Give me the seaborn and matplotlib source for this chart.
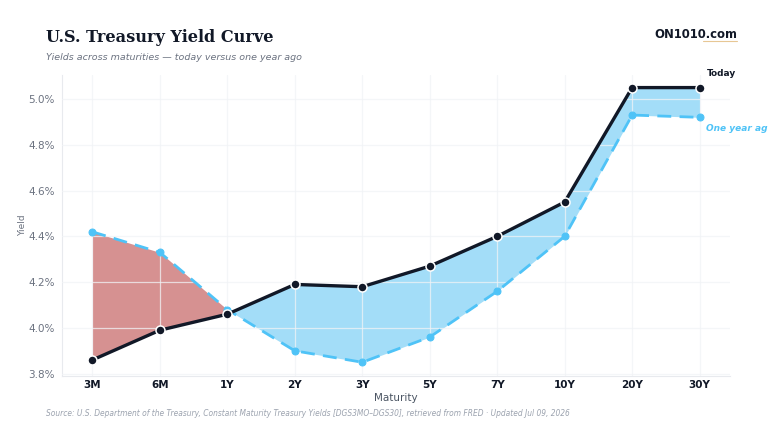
import numpy as np
import pandas as pd
import matplotlib
matplotlib.use("Agg")
import matplotlib.pyplot as plt
import seaborn as sns

maturities = ["3M", "6M", "1Y", "2Y", "3Y", "5Y", "7Y", "10Y", "20Y", "30Y"]
today = [3.86, 3.99, 4.06, 4.19, 4.18, 4.27, 4.40, 4.55, 5.05, 5.05]
year_ago = [4.42, 4.33, 4.08, 3.90, 3.85, 3.96, 4.16, 4.40, 4.93, 4.92]
y_ticks = [3.8, 4.0, 4.2, 4.4, 4.6, 4.8, 5.0]

sns.set_theme(style="white")
plt.rcParams['font.family'] = ['DejaVu Sans']

navy = "#111827"
blue = "#4fc3f7"

df = pd.DataFrame({"pos": np.arange(len(maturities)), "today": today, "ago": year_ago})

fig = plt.figure(figsize=(7.68, 4.32), dpi=100)
ax = fig.add_axes([62 / 768, 1 - 376 / 432, 668 / 768, 301 / 432])

# shaded spread between the two curves
x = df["pos"].values
t = df["today"].values
a = df["ago"].values
ax.fill_between(x, t, a, where=a >= t, interpolate=True, color="#d48b8b", alpha=0.95, lw=0, zorder=1)
ax.fill_between(x, t, a, where=a <= t, interpolate=True, color="#9edcf8", alpha=0.95, lw=0, zorder=1)

sns.lineplot(data=df, x="pos", y="ago", ax=ax, color=blue, lw=2, linestyle=(0, (5, 3)),
             marker="o", markersize=5, markeredgecolor=blue, zorder=3)
sns.lineplot(data=df, x="pos", y="today", ax=ax, color=navy, lw=2.4,
             marker="o", markersize=6.5, markeredgecolor="white", markeredgewidth=1.1, zorder=4)

ax.set_xlim(-0.45, 9.45)
ax.set_ylim(3.79, 5.105)
ax.set_xticks(x)
ax.set_xticklabels(maturities, fontsize=7.5, fontweight="bold", color=navy)
ax.set_yticks(y_ticks)
ax.set_yticklabels([f"{v:.1f}%" for v in y_ticks], fontsize=7.5, color="#6b7280")
ax.tick_params(axis="x", length=0, pad=3)
ax.tick_params(axis="y", length=0, pad=5)
ax.set_axisbelow(False)
ax.grid(True, color="#f1f3f6", lw=0.9, alpha=0.75, zorder=2.5)
for s in ["top", "right"]:
    ax.spines[s].set_visible(False)
for s in ["left", "bottom"]:
    ax.spines[s].set_color("#e8eaee")
    ax.spines[s].set_linewidth(0.8)

ax.set_xlabel("Maturity", fontsize=7.5, color="#4b5563", labelpad=2)
ax.set_ylabel("Yield", fontsize=6.5, color="#6b7280")
ax.yaxis.set_label_coords(-0.052, 0.5)

# end labels
ax.text(9.1, 5.05 + 0.06, "Today", fontsize=6.5, fontweight="bold", color=navy, va="center", clip_on=False)
ax.text(9.1, 4.92 - 0.05, "One year ago", fontsize=6.5, fontweight="bold", style="italic",
        color=blue, va="center", clip_on=False)

fig.text(46 / 768, 1 - 38 / 432, "U.S. Treasury Yield Curve", family="DejaVu Serif",
         fontsize=11.6, fontweight="bold", color=navy, va="center")
fig.text(46 / 768, 1 - 58 / 432, "Yields across maturities \u2014 today versus one year ago",
         fontsize=6.8, style="italic", color="#6b7280", va="center")
fig.text(737 / 768, 1 - 35 / 432, "ON1010.com", fontsize=8.4, fontweight="bold",
         color=navy, ha="right", va="center")
fig.add_artist(plt.Line2D([703 / 768, 737 / 768], [1 - 41 / 432, 1 - 41 / 432],
                          color="#e2b979", lw=0.8, alpha=0.8))
fig.text(46 / 768, 1 - 414 / 432,
         "Source: U.S. Department of the Treasury, Constant Maturity Treasury Yields [DGS3MO\u2013DGS30], "
         "retrieved from FRED \u00b7 Updated Jul 09, 2026",
         fontsize=5.45, style="italic", color="#9ca3af", va="center")

fig.savefig("out.png", dpi=100)
